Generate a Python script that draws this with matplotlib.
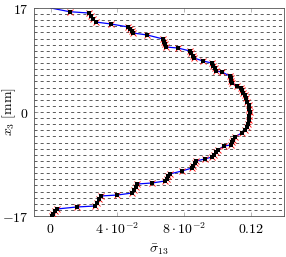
import numpy as np
import matplotlib
matplotlib.use("Agg")
import matplotlib.pyplot as plt

plt.rcParams['mathtext.fontset'] = 'cm'
plt.rcParams['font.family'] = 'serif'
plt.rcParams['font.serif'] = ['DejaVu Serif']
plt.rcParams['lines.scale_dashes'] = False

# ply interfaces [mm]
interfaces = list(range(-16, 17))

# surface point of the curve
z_top, s_top = 17.0, 0.0

# through-thickness points (x3 [mm], sigma_13)
z_pts = [16.40,
         16.18, 15.69, 15.20, 14.71,
         14.38,
         13.89, 13.56, 13.24, 12.91,
         12.59,
         11.93, 11.49, 11.06, 10.62,
         10.46,
         9.97, 9.59, 9.21, 8.83,
         8.34,
         8.01, 7.57, 7.14, 6.70,
         6.54,
         5.88, 5.50, 5.12, 4.74,
         4.25,
         3.92, 3.54, 3.16, 2.78,
         2.29, 1.70, 1.14, 0.57, 0.00, -0.65, -1.31, -1.90, -2.45, -2.95, -3.43,
         -4.09, -4.52, -4.96, -5.39,
         -5.56,
         -6.21, -6.59, -6.98, -7.36,
         -7.68,
         -8.01, -8.39, -8.77, -9.15,
         -9.64,
         -10.13, -10.51, -10.90, -11.28,
         -11.60,
         -11.77, -12.26, -12.75, -13.24,
         -13.57,
         -13.73, -14.28, -14.82, -15.37,
         -15.53,
         -15.86, -16.24, -16.62, -17.00]
s_pts = [0.0113,
         0.0227, 0.0241, 0.0255, 0.0269,
         0.0364,
         0.0466, 0.0476, 0.0486, 0.0496,
         0.0579,
         0.0675, 0.0681, 0.0687, 0.0693,
         0.0764,
         0.0836, 0.0844, 0.0852, 0.0860,
         0.0913,
         0.0967, 0.0975, 0.0983, 0.0991,
         0.1027,
         0.1075, 0.1079, 0.1083, 0.1087,
         0.1116,
         0.1140, 0.1148, 0.1156, 0.1164,
         0.1170, 0.1180, 0.1188, 0.1192, 0.1194, 0.1192, 0.1188, 0.1183, 0.1176, 0.1163, 0.1146,
         0.1104, 0.1096, 0.1089, 0.1081,
         0.1039,
         0.1003, 0.0991, 0.0979, 0.0967,
         0.0925,
         0.0872, 0.0864, 0.0856, 0.0848,
         0.0788,
         0.0714, 0.0705, 0.0696, 0.0687,
         0.0609,
         0.0519, 0.0509, 0.0500, 0.0490,
         0.0400,
         0.0299, 0.0287, 0.0275, 0.0263,
         0.0155,
         0.0036, 0.0026, 0.0016, 0.0006]

xticks = [0, 0.04, 0.08, 0.12]
xticklabels = [r'$0$', r'$4\cdot10^{-2}$', r'$8\cdot10^{-2}$', r'$0.12$']
yticks = [-17, 0, 17]
yticklabels = [r'$-17$', r'$0$', r'$17$']

fig = plt.figure(figsize=(2.86, 2.57), dpi=100)
ax = fig.add_axes([34 / 286, 41 / 257, 250 / 286, 208 / 257])

for z in interfaces:
    ax.axhline(z, color='black', lw=0.45, dashes=(2.2, 2.2), zorder=1)

ax.plot([s_top] + s_pts, [z_top] + z_pts, color='#0000ff', lw=0.9, zorder=2)
ax.plot(s_pts, z_pts, ls='none', marker='x', color='red', ms=4.0, mew=0.6, zorder=3)
ax.plot(s_pts, z_pts, ls='none', marker='s', color='black', ms=2.2, mew=0, zorder=4)

ax.set_xlim(-0.01, 0.14)
ax.set_ylim(-17, 17)
ax.set_xticks(xticks)
ax.set_xticklabels(xticklabels, fontsize=10)
ax.set_yticks(yticks)
ax.set_yticklabels(yticklabels, fontsize=10)
ax.tick_params(direction='in', length=3, width=0.5, color='#999999',
               top=True, right=True, pad=4)
for sp in ax.spines.values():
    sp.set_linewidth(0.6)
    sp.set_color('#555555')

ax.set_xlabel(r'$\bar{\sigma}_{13}$', fontsize=10, labelpad=4)
ax.set_ylabel(r'$x_3\ [\mathrm{mm}]$', fontsize=10)
ax.yaxis.set_label_coords(-0.062, 0.5)

fig.savefig('out.png', dpi=100)
